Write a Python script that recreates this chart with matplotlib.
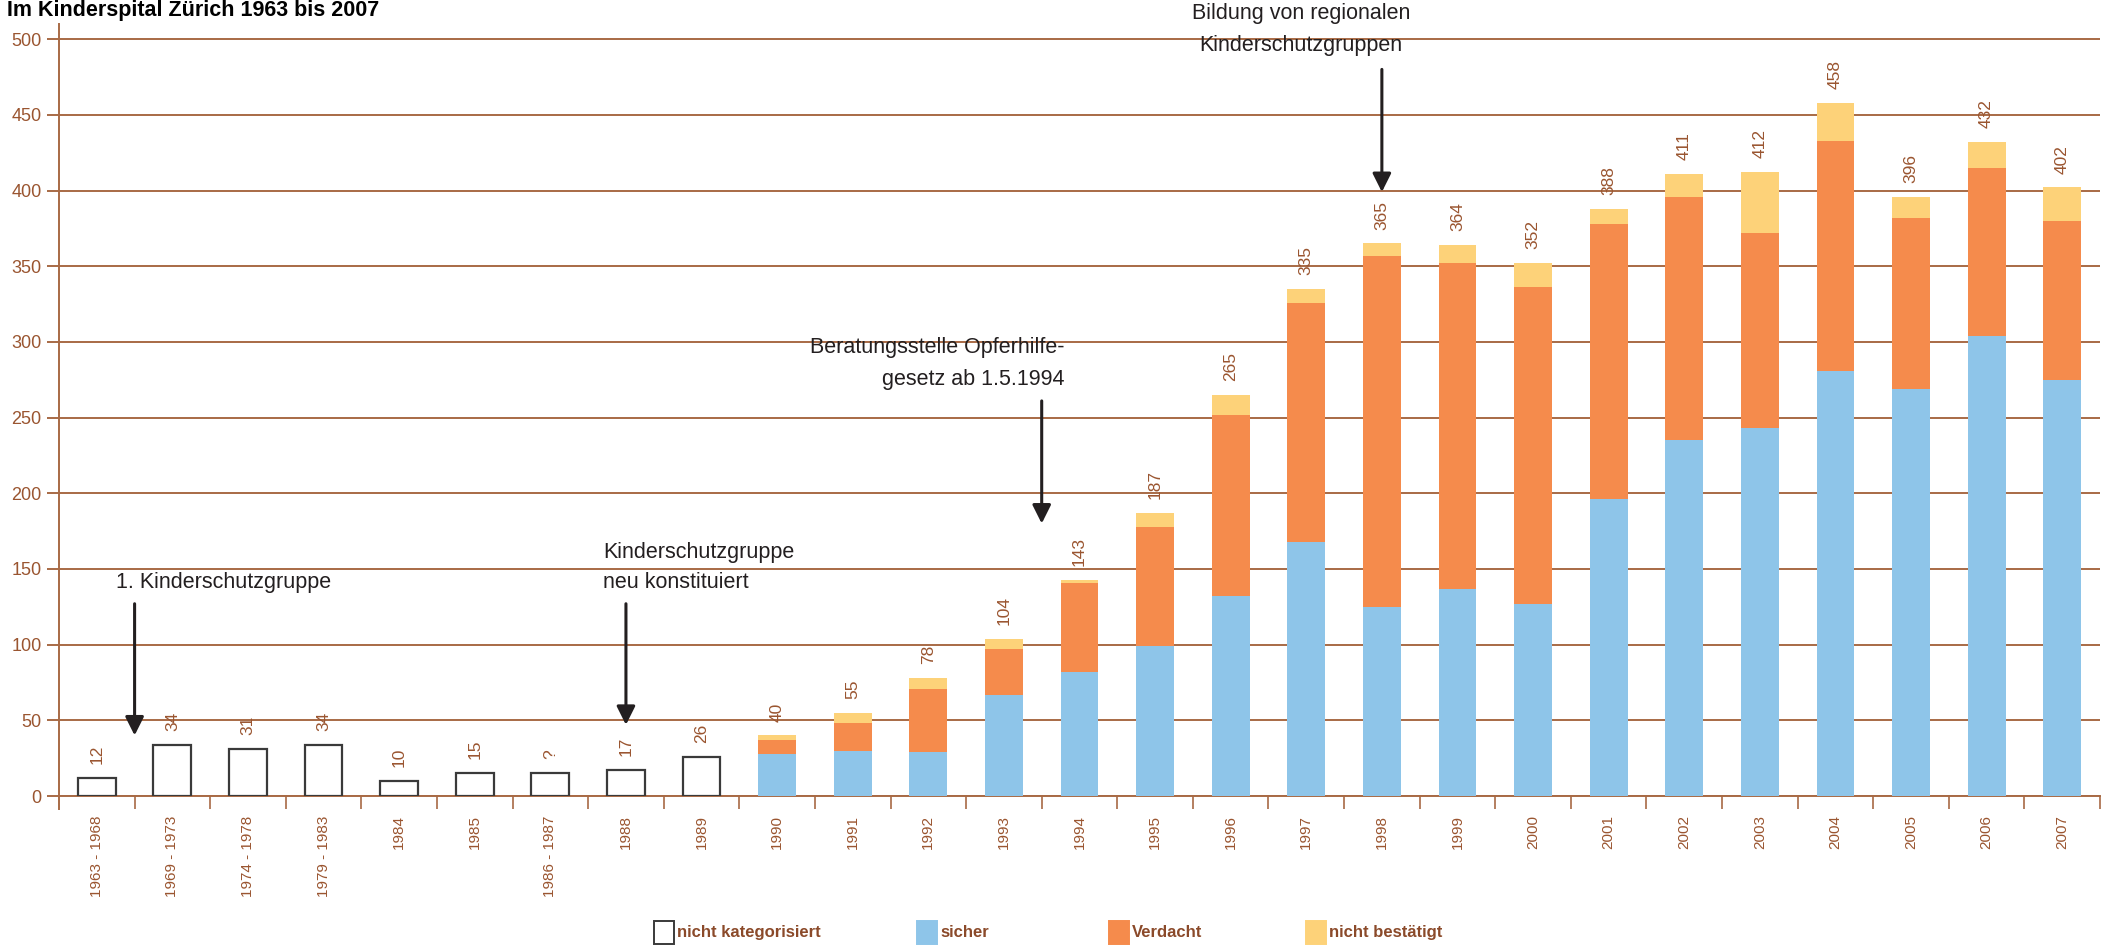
import numpy as np
import matplotlib
matplotlib.use("Agg")
from matplotlib import pyplot as plt
from matplotlib.patches import Rectangle

plt.rcParams['font.family'] = ['Liberation Sans', 'DejaVu Sans']

# early periods: cases not split into categories
early_cats = ['1963 - 1968', '1969 - 1973', '1974 - 1978', '1979 - 1983', '1984',
              '1985', '1986 - 1987', '1988', '1989']
early_vals = [12, 34, 31, 34, 10, 15, 15, 17, 26]
early_labels = ['12', '34', '31', '34', '10', '15', '?', '17', '26']

# from 1990 on: sicher / Verdacht / nicht bestaetigt
years = [str(y) for y in range(1990, 2008)]
sicher = [28, 30, 29, 67, 82, 99, 132, 168, 125, 137, 127, 196, 235, 243, 281, 269, 304, 275]
verdacht = [9, 18, 42, 30, 59, 79, 120, 158, 232, 215, 209, 182, 161, 129, 152, 113, 111, 105]
nicht_best = [3, 7, 7, 7, 2, 9, 13, 9, 8, 12, 16, 10, 15, 40, 25, 14, 17, 22]

c_sicher = '#8ec5e9'
c_verdacht = '#f58b4c'
c_nb = '#fdd279'
brown = '#9a5530'
grid_c = '#a86a45'
dark = '#231f20'

categories = early_cats + years
x = np.arange(len(categories))
x_early = x[:len(early_cats)]
x_late = x[len(early_cats):]

fig = plt.figure(figsize=(21.15, 9.46), dpi=100)
ax = fig.add_axes([59/2115, 1-796/946, (2100-59)/2115, (796-24)/946])

w = 0.5
ax.bar(x_early, early_vals, w, color='white', edgecolor='#3a3a3a', linewidth=1.6, zorder=3)
ax.bar(x_late, sicher, w, color=c_sicher, zorder=3)
ax.bar(x_late, verdacht, w, bottom=sicher, color=c_verdacht, zorder=3)
bot2 = np.array(sicher) + np.array(verdacht)
ax.bar(x_late, nicht_best, w, bottom=bot2, color=c_nb, zorder=3)
totals = bot2 + np.array(nicht_best)

# value labels above the bars
for xi, v, lab in zip(x_early, early_vals, early_labels):
    ax.annotate(lab, (xi, v), xytext=(0, 10), textcoords='offset points',
                rotation=90, ha='center', va='bottom', color=brown, fontsize=12.5)
for xi, v in zip(x_late, totals):
    ax.annotate(str(v), (xi, v), xytext=(0, 10), textcoords='offset points',
                rotation=90, ha='center', va='bottom', color=brown, fontsize=12.5)

ax.set_xlim(-0.5, len(categories) - 0.5)
ax.set_ylim(0, 510)
ax.set_yticks(range(0, 501, 50))
ax.yaxis.grid(True, color=grid_c, linewidth=1.4, zorder=0)
ax.set_axisbelow(True)
ax.tick_params(axis='y', length=8.5, width=1.4, color=grid_c, labelcolor=brown,
               labelsize=13, pad=4)

ax.set_xticks(x)
ax.set_xticklabels(categories, rotation=90, color=brown, fontsize=11, va='top')
ax.set_xticks(list(x[1:] - 0.5) + [x[-1] + 0.5], minor=True)
ax.tick_params(axis='x', which='major', length=0, pad=14)
ax.tick_params(axis='x', which='minor', length=9.5, width=1.2, color=grid_c)

for s in ['top', 'right']:
    ax.spines[s].set_visible(False)
ax.spines['bottom'].set_color(grid_c)
ax.spines['bottom'].set_linewidth(1.4)
ax.spines['left'].set_color(grid_c)
ax.spines['left'].set_linewidth(1.4)
ax.spines['left'].set_bounds(-8.6, 510)

# annotations with arrows
arrow = dict(arrowstyle='-|>', mutation_scale=28, lw=2.2, color=dark, shrinkA=0, shrinkB=0)
tx = dict(color=dark, fontsize=15.5)

ax.annotate('', xy=(0.5, 40), xytext=(0.5, 127), arrowprops=arrow)
ax.text(0.25, 141, '1. Kinderschutzgruppe', ha='left', va='center', **tx)

ax.annotate('', xy=(7, 47), xytext=(7, 127), arrowprops=arrow)
ax.text(6.7, 161, 'Kinderschutzgruppe', ha='left', va='center', **tx)
ax.text(6.7, 141, 'neu konstituiert', ha='left', va='center', **tx)

ax.annotate('', xy=(12.5, 180), xytext=(12.5, 261), arrowprops=arrow)
ax.text(12.8, 296, 'Beratungsstelle Opferhilfe-', ha='right', va='center', **tx)
ax.text(12.8, 275, 'gesetz ab 1.5.1994', ha='right', va='center', **tx)

ax.annotate('', xy=(17, 399), xytext=(17, 480), arrowprops=arrow)
ax.text(15.93, 517, 'Bildung von regionalen', ha='center', va='center', **tx)
ax.text(15.93, 496, 'Kinderschutzgruppen', ha='center', va='center', **tx)

# title at the very top edge
fig.text(7/2115, 1 - 16/946, 'Im Kinderspital Zürich 1963 bis 2007',
         ha='left', va='baseline', fontsize=15.5, weight='bold', color='black')

# legend row
leg = [('nicht kategorisiert', 'white', '#3a3a3a', 654),
       ('sicher', c_sicher, c_sicher, 917),
       ('Verdacht', c_verdacht, c_verdacht, 1109),
       ('nicht bestätigt', c_nb, c_nb, 1306)]
for name, fc, ec, px in leg:
    fig.add_artist(Rectangle((px/2115, 1 - 944/946), 20/2115, 23/946,
                             transform=fig.transFigure, facecolor=fc, edgecolor=ec,
                             linewidth=1.4))
    fig.text((px + 23)/2115, 1 - 932/946, name, ha='left', va='center',
             fontsize=12, weight='bold', color='#8b4a2a')

fig.savefig('out.png', dpi=100)
